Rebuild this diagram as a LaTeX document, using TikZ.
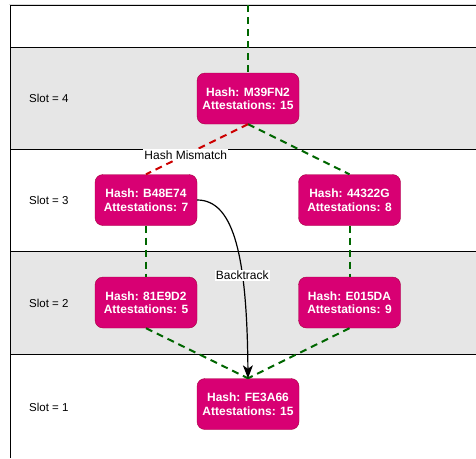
\documentclass[tikz,border=0pt]{standalone}
\usepackage{fontspec}
\setmainfont{Liberation Sans}
\usetikzlibrary{arrows.meta}

\definecolor{blockfill}{HTML}{D80073}
\definecolor{blockline}{HTML}{A50040}
\definecolor{bandgray}{HTML}{E6E6E6}
\definecolor{okgreen}{HTML}{006600}
\definecolor{badred}{HTML}{CC0000}

\tikzset{
  block/.style={draw=blockline, fill=blockfill, rounded corners=8pt,
    minimum width=102pt, minimum height=51pt, inner sep=0pt,
    text=white, align=center, font=\fontsize{12}{13.5}\selectfont\bfseries},
  slotlabel/.style={anchor=west, inner sep=0pt, font=\fontsize{11.5}{13}\selectfont},
  chainlink/.style={draw=okgreen, line width=2pt, dash pattern=on 7pt off 5pt},
  badlink/.style={draw=badred, line width=2pt, dash pattern=on 7pt off 5pt},
  edgelabel/.style={fill=white, inner sep=1pt, font=\fontsize{12}{14}\selectfont},
  backtrack/.style={draw=black, line width=1.2pt, -{Stealth[length=13pt,width=10pt,inset=3.5pt]}}
}

\begin{document}
\begin{tikzpicture}[x=1pt, y=-1pt]
  \useasboundingbox (0,0) rectangle (476,458);

  % slot bands
  \fill[bandgray] (10.3,47.3) rectangle (476,149.5);
  \fill[bandgray] (10.3,251.5) rectangle (476,354);
  \draw[black!15, line width=1pt] (9,4) -- (476,4);
  \draw[line width=1pt] (10.3,458) -- (10.3,5.3) -- (476,5.3);
  \foreach \yy in {47.3,149.5,251.5,354}
    \draw[line width=1pt] (10.3,\yy) -- (476,\yy);

  % slot labels
  \node[slotlabel] (s4) at (29,98.5) {Slot = 4};
  \node[slotlabel] (s3) at (29,200) {Slot = 3};
  \node[slotlabel] (s2) at (29,303) {Slot = 2};
  \node[slotlabel] (s1) at (29,407) {Slot = 1};

  % blocks
  \node[block] (m39) at (248,98.5) {Hash: M39FN2\\Attestations: 15};
  \node[block] (b48) at (146,200) {Hash: B48E74\\Attestations: 7};
  \node[block] (g44) at (349.5,200) {Hash: 44322G\\Attestations: 8};
  \node[block] (e81) at (146,302.5) {Hash: 81E9D2\\Attestations: 5};
  \node[block] (e01) at (349.5,302.5) {Hash: E015DA\\Attestations: 9};
  \node[block] (fe3) at (248,404) {Hash: FE3A66\\Attestations: 15};

  \coordinate (top) at (248,5.3);

  % parent links
  \draw[chainlink] (top) -- (m39.north);
  \draw[chainlink] (m39.south) -- (g44.north);
  \draw[badlink] (m39.south) -- node[edgelabel, pos=0.61] (mismatch) {Hash Mismatch} (b48.north);
  \draw[chainlink] (b48.south) -- (e81.north);
  \draw[chainlink] (g44.south) -- (e01.north);
  \draw[chainlink] (e81.south) -- (fe3.north);
  \draw[chainlink] (e01.south) -- (fe3.north);

  % backtrack
  \draw[backtrack] (b48.east) .. controls (235,200) and (247,260) .. node[edgelabel, pos=0.65] (bt) {Backtrack} (fe3.north);
\end{tikzpicture}
\end{document}
